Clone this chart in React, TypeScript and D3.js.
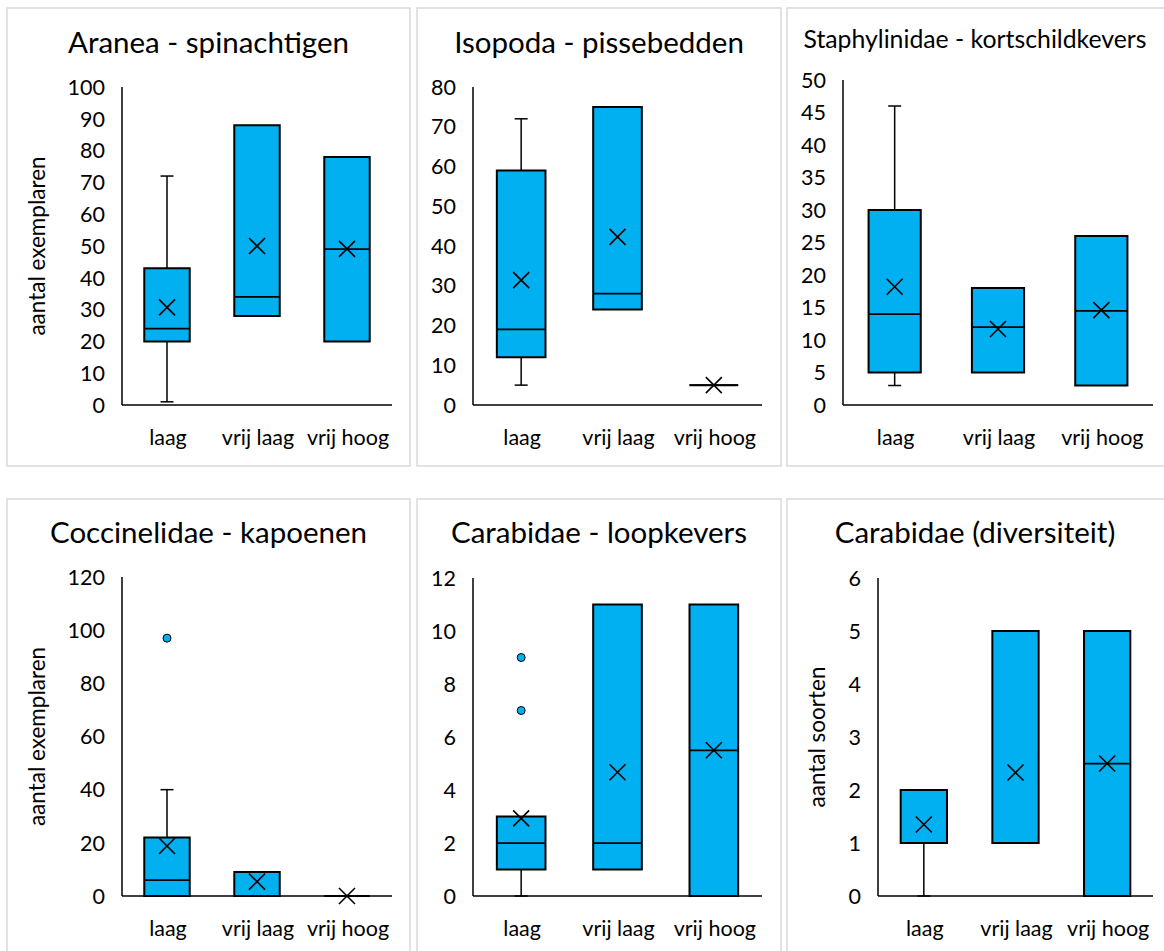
import React from "react";
import * as d3 from "d3";

type BoxStat = {
  min: number;
  q1: number;
  median: number;
  q3: number;
  max: number;
  mean: number;
  outliers: number[];
};

// Habitat classes on the x axis of every panel
const categories = ["laag", "vrij laag", "vrij hoog"];

// Five-number summaries, mean and outliers per habitat class
const araneaStats: BoxStat[] = [
  { min: 1, q1: 20, median: 24, q3: 43, max: 72, mean: 30.7, outliers: [] },
  { min: 28, q1: 28, median: 34, q3: 88, max: 88, mean: 50, outliers: [] },
  { min: 20, q1: 20, median: 49, q3: 78, max: 78, mean: 49.1, outliers: [] },
];
const isopodaStats: BoxStat[] = [
  { min: 5, q1: 12, median: 19, q3: 59, max: 72, mean: 31.4, outliers: [] },
  { min: 24, q1: 24, median: 28, q3: 75, max: 75, mean: 42.3, outliers: [] },
  { min: 5, q1: 5, median: 5, q3: 5, max: 5, mean: 5, outliers: [] },
];
const staphylinidaeStats: BoxStat[] = [
  { min: 3, q1: 5, median: 14, q3: 30, max: 46, mean: 18.2, outliers: [] },
  { min: 5, q1: 5, median: 12, q3: 18, max: 18, mean: 11.7, outliers: [] },
  { min: 3, q1: 3, median: 14.5, q3: 26, max: 26, mean: 14.6, outliers: [] },
];
const coccinelidaeStats: BoxStat[] = [
  { min: 0, q1: 0, median: 6, q3: 22, max: 40, mean: 18.8, outliers: [97] },
  { min: 0, q1: 0, median: 0, q3: 9, max: 9, mean: 5.4, outliers: [] },
  { min: 0, q1: 0, median: 0, q3: 0, max: 0, mean: 0, outliers: [] },
];
const carabidaeStats: BoxStat[] = [
  { min: 0, q1: 1, median: 2, q3: 3, max: 3, mean: 2.93, outliers: [7, 9] },
  { min: 1, q1: 1, median: 2, q3: 11, max: 11, mean: 4.67, outliers: [] },
  { min: 0, q1: 0, median: 5.5, q3: 11, max: 11, mean: 5.5, outliers: [] },
];
const carabidaeDiversityStats: BoxStat[] = [
  { min: 0, q1: 1, median: 1, q3: 2, max: 2, mean: 1.35, outliers: [] },
  { min: 1, q1: 1, median: 1, q3: 5, max: 5, mean: 2.33, outliers: [] },
  { min: 0, q1: 0, median: 2.5, q3: 5, max: 5, mean: 2.5, outliers: [] },
];

const panelTitles = [
  "Aranea - spinachtigen",
  "Isopoda - pissebedden",
  "Staphylinidae - kortschildkevers",
  "Coccinelidae - kapoenen",
  "Carabidae - loopkevers",
  "Carabidae (diversiteit)",
];
const axisTitles = ["aantal exemplaren", "", "", "aantal exemplaren", "", "aantal soorten"];
const yMaxima = [100, 80, 50, 120, 12, 6];
const tickSteps = [10, 10, 5, 20, 2, 1];
const panelStats = [
  araneaStats,
  isopodaStats,
  staphylinidaeStats,
  coccinelidaeStats,
  carabidaeStats,
  carabidaeDiversityStats,
];

// Frame and plot-area geometry of each panel (page pixels)
const layout = [
  { fx: 7, fy: 8, fw: 403, fh: 458, left: 122, right: 392, top: 87, bottom: 405, titleY: 53, titleSize: 29.5, axisTitleX: 45 },
  { fx: 417, fy: 8, fw: 364, fh: 458, left: 473, right: 762, top: 87, bottom: 405, titleY: 53, titleSize: 29.5, axisTitleX: 0 },
  { fx: 787, fy: 8, fw: 380, fh: 458, left: 843, right: 1153, top: 80, bottom: 405, titleY: 48, titleSize: 24.8, axisTitleX: 0 },
  { fx: 7, fy: 499, fw: 403, fh: 460, left: 122, right: 392, top: 577, bottom: 896, titleY: 543, titleSize: 29.5, axisTitleX: 45 },
  { fx: 417, fy: 499, fw: 364, fh: 460, left: 473, right: 762, top: 578, bottom: 896, titleY: 543, titleSize: 29.5, axisTitleX: 0 },
  { fx: 787, fy: 499, fw: 380, fh: 460, left: 878, right: 1153, top: 578, bottom: 896, titleY: 543, titleSize: 29.5, axisTitleX: 825 },
];

const FONT = "Lato, 'Open Sans', sans-serif";
const BOX_FILL = "#00B0F0";

function Panel({ index }: { index: number }) {
  const L = layout[index];
  const stats = panelStats[index];
  const y = d3.scaleLinear().domain([0, yMaxima[index]]).range([L.bottom, L.top]);
  const x = d3.scaleBand<string>().domain(categories).range([L.left, L.right]).padding(0);
  const ticks = d3.range(0, yMaxima[index] + tickSteps[index] / 2, tickSteps[index]);
  const boxW = x.bandwidth() * 0.505;
  const capW = 13;
  const axisTitle = axisTitles[index];
  const axisTitleCy = (L.top + L.bottom) / 2;

  return (
    <g>
      <rect x={L.fx} y={L.fy} width={L.fw} height={L.fh} fill="#fff" stroke="#d9d9d9" strokeWidth={1.5} />
      <text
        x={L.fx + L.fw / 2 - (index === 2 || index === 5 ? 2 : 0)}
        y={L.titleY}
        textAnchor="middle"
        fontFamily={FONT}
        fontSize={L.titleSize}
        fill="#000"
      >
        {panelTitles[index]}
      </text>

      {ticks.map((t) => (
        <text
          key={t}
          x={L.left - 17}
          y={y(t)}
          dy="0.36em"
          textAnchor="end"
          fontFamily={FONT}
          fontSize={21.5}
          fill="#000"
        >
          {t}
        </text>
      ))}

      {axisTitle && (
        <text
          transform={`translate(${L.axisTitleX},${axisTitleCy}) rotate(-90)`}
          textAnchor="middle"
          fontFamily={FONT}
          fontSize={22.5}
          fill="#000"
        >
          {axisTitle}
        </text>
      )}

      {categories.map((c) => (
        <text
          key={c}
          x={(x(c) ?? 0) + x.bandwidth() / 2 + 1}
          y={L.bottom + 40}
          textAnchor="middle"
          fontFamily={FONT}
          fontSize={21.5}
          fill="#000"
        >
          {c}
        </text>
      ))}

      {stats.map((s, i) => {
        const cx = (x(categories[i]) ?? 0) + x.bandwidth() / 2;
        const x0 = cx - boxW / 2;
        const x1 = cx + boxW / 2;
        const boxPath = `M${x0},${y(s.q3)}H${x1}V${y(s.q1)}H${x0}Z`;
        return (
          <g key={i}>
            {s.max > s.q3 && (
              <g stroke="#000" strokeWidth={1.5}>
                <line x1={cx} x2={cx} y1={y(s.q3)} y2={y(s.max)} />
                <line x1={cx - capW / 2} x2={cx + capW / 2} y1={y(s.max)} y2={y(s.max)} />
              </g>
            )}
            {s.min < s.q1 && (
              <g stroke="#000" strokeWidth={1.5}>
                <line x1={cx} x2={cx} y1={y(s.q1)} y2={y(s.min)} />
                <line x1={cx - capW / 2} x2={cx + capW / 2} y1={y(s.min)} y2={y(s.min)} />
              </g>
            )}
            <path d={boxPath} fill={BOX_FILL} stroke="#000" strokeWidth={2} strokeLinejoin="miter" />
            <line x1={x0} x2={x1} y1={y(s.median)} y2={y(s.median)} stroke="#000" strokeWidth={1.75} />
            <path
              d={`M${cx - 8},${y(s.mean) - 8}L${cx + 8},${y(s.mean) + 8}M${cx - 8},${y(s.mean) + 8}L${cx + 8},${y(s.mean) - 8}`}
              stroke="#000"
              strokeWidth={1.6}
              fill="none"
            />
            {s.outliers.map((o, k) => (
              <circle key={k} cx={cx} cy={y(o)} r={4} fill={BOX_FILL} stroke="#000" strokeWidth={1} />
            ))}
          </g>
        );
      })}

      <line x1={L.left} x2={L.left} y1={L.top} y2={L.bottom} stroke="#000" strokeWidth={1.5} />
      <line x1={L.left} x2={L.right} y1={L.bottom} y2={L.bottom} stroke="#000" strokeWidth={1.5} />
    </g>
  );
}

export default function App() {
  return (
    <svg
      width={1164}
      height={951}
      viewBox="0 0 1164 951"
      style={{ position: "absolute", left: 0, top: 0, background: "#fff" }}
    >
      <rect width={1164} height={951} fill="#fff" />
      {layout.map((_, i) => (
        <Panel key={i} index={i} />
      ))}
    </svg>
  );
}
